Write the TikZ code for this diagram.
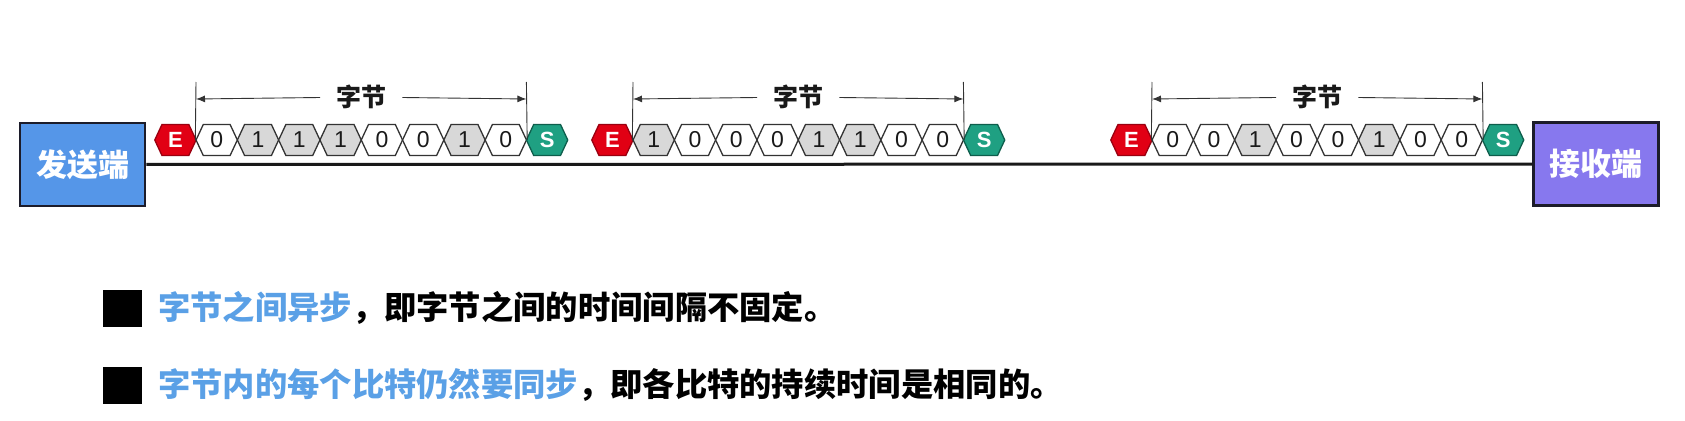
\documentclass[tikz,border=0pt]{standalone}
\usepackage{fontspec}
\setmainfont{Liberation Sans}
\newfontfamily\cjk{Noto Sans CJK SC}
\usetikzlibrary{shapes.symbols,arrows.meta}

\definecolor{sendblue}{HTML}{5596E8}
\definecolor{recvpurple}{HTML}{8778EE}
\definecolor{boxline}{HTML}{1C1C2A}
\definecolor{hexline}{HTML}{333333}
\definecolor{bitgray}{HTML}{D8D8D8}
\definecolor{ered}{HTML}{E10014}
\definecolor{eredline}{HTML}{9A0010}
\definecolor{steal}{HTML}{1FA082}
\definecolor{stealline}{HTML}{0E5E4C}
\definecolor{noteblue}{HTML}{5AA0E6}

\begin{document}
\begin{tikzpicture}[x=1pt,y=-1pt,
    hexbit/.style={signal,signal to=east and west,signal pointer angle=130,draw=hexline,line width=1.3pt,inner sep=0pt,minimum width=41.3pt,minimum height=31pt,text=black!90,font=\fontsize{23}{23}\selectfont},
    zero/.style={hexbit,fill=white},
    one/.style={hexbit,fill=bitgray},
    emark/.style={hexbit,fill=ered,draw=eredline,text=white,font=\fontsize{22}{22}\selectfont\bfseries},
    smark/.style={hexbit,fill=steal,draw=stealline,text=white,font=\fontsize{22}{22}\selectfont\bfseries},
    endbox/.style={draw=boxline,line width=2.5pt,minimum width=125pt,minimum height=83pt,text=white,font=\cjk\bfseries\fontsize{31}{31}\selectfont},
    bytelabel/.style={inner xsep=16pt,inner ysep=2pt,text=black!90,font=\cjk\bfseries\fontsize{25}{25}\selectfont},
    thin/.style={draw=hexline,line width=0.9pt},
    note/.style={anchor=west,inner sep=0pt,font=\cjk\bfseries\fontsize{32.3}{32.3}\selectfont}]
    \useasboundingbox (0,0) rectangle (1685,420);

    % end stations
    \node (send) at (82.5,164.5) [endbox,fill=sendblue] {发送端};
    \node (recv) at (1596,164) [endbox,fill=recvpurple] {接收端};
    \draw[line width=3pt,black!90] (send) -- (recv);

    % byte 1
    \node (e1) at (175.4,140) [emark] {E};
    \node (b11) at (216.7,140) [zero] {0};
    \node (b12) at (258.0,140) [one] {1};
    \node (b13) at (299.3,140) [one] {1};
    \node (b14) at (340.6,140) [one] {1};
    \node (b15) at (381.9,140) [zero] {0};
    \node (b16) at (423.2,140) [zero] {0};
    \node (b17) at (464.5,140) [one] {1};
    \node (b18) at (505.8,140) [zero] {0};
    \node (s1) at (547.1,140) [smark] {S};

    % byte 2
    \node (e2) at (612.4,140) [emark] {E};
    \node (b21) at (653.7,140) [one] {1};
    \node (b22) at (695.0,140) [zero] {0};
    \node (b23) at (736.3,140) [zero] {0};
    \node (b24) at (777.6,140) [zero] {0};
    \node (b25) at (818.9,140) [one] {1};
    \node (b26) at (860.2,140) [one] {1};
    \node (b27) at (901.5,140) [zero] {0};
    \node (b28) at (942.8,140) [zero] {0};
    \node (s2) at (984.1,140) [smark] {S};

    % byte 3
    \node (e3) at (1131.4,140) [emark] {E};
    \node (b31) at (1172.7,140) [zero] {0};
    \node (b32) at (1214.0,140) [zero] {0};
    \node (b33) at (1255.3,140) [one] {1};
    \node (b34) at (1296.6,140) [zero] {0};
    \node (b35) at (1337.9,140) [zero] {0};
    \node (b36) at (1379.2,140) [one] {1};
    \node (b37) at (1420.5,140) [zero] {0};
    \node (b38) at (1461.8,140) [zero] {0};
    \node (s3) at (1503.1,140) [smark] {S};

    % byte spans
    \coordinate (tl1) at (196,82);    \coordinate (tr1) at (526.4,82);
    \coordinate (tl2) at (633,82);    \coordinate (tr2) at (963.4,82);
    \coordinate (tl3) at (1152,82);   \coordinate (tr3) at (1482.4,82);
    \coordinate (al1) at (196,99);    \coordinate (ar1) at (526.4,99);
    \coordinate (al2) at (633,99);    \coordinate (ar2) at (963.4,99);
    \coordinate (al3) at (1152,99);   \coordinate (ar3) at (1482.4,99);
    \node (lab1) at (361.2,97) [bytelabel] {字节};
    \node (lab2) at (798.2,97) [bytelabel] {字节};
    \node (lab3) at (1317.2,97) [bytelabel] {字节};

    \draw[thin] (b11.west) -- (tl1) (b18.east) -- (tr1) (b21.west) -- (tl2) (b28.east) -- (tr2) (b31.west) -- (tl3) (b38.east) -- (tr3);
    \draw[thin,-{Latex[length=9pt,width=7pt]}] (lab1) -- (al1);
    \draw[thin,-{Latex[length=9pt,width=7pt]}] (lab1) -- (ar1);
    \draw[thin,-{Latex[length=9pt,width=7pt]}] (lab2) -- (al2);
    \draw[thin,-{Latex[length=9pt,width=7pt]}] (lab2) -- (ar2);
    \draw[thin,-{Latex[length=9pt,width=7pt]}] (lab3) -- (al3);
    \draw[thin,-{Latex[length=9pt,width=7pt]}] (lab3) -- (ar3);

    % notes
    \node (m1) at (122.5,308.5) [fill=black,inner sep=0pt,minimum width=39pt,minimum height=37pt] {};
    \node (m2) at (122.5,385) [fill=black,inner sep=0pt,minimum width=39pt,minimum height=37pt] {};
    \node (t1) at (158,308) [note] {\textcolor{noteblue}{字节之间异步}，即字节之间的时间间隔不固定。};
    \node (t2) at (158,385) [note] {\textcolor{noteblue}{字节内的每个比特仍然要同步}，即各比特的持续时间是相同的。};
\end{tikzpicture}
\end{document}
